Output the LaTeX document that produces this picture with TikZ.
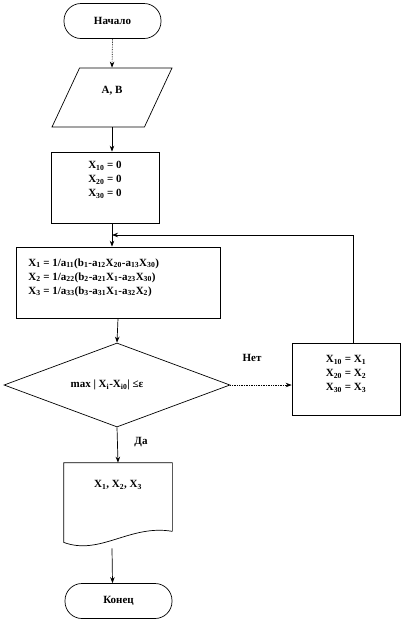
\documentclass[tikz,border=0pt]{standalone}
\usepackage{fontspec}
\setmainfont{Liberation Serif}
\usepackage{tikz}
\usetikzlibrary{shapes.geometric,arrows.meta}

\begin{document}
\begin{tikzpicture}[x=1pt, y=-1pt, line width=0.7pt,
  every node/.style={font=\bfseries\fontsize{11}{14}\selectfont},
  arr/.style={-{Stealth[length=6pt,width=4.5pt]}},
  term/.style={draw, rounded corners=17pt, minimum height=35pt},
  block/.style={draw, minimum width=108pt, minimum height=71pt}]
\useasboundingbox (0,0) rectangle (403,622);
% blocks
\node[term, minimum width=97pt] (start) at (112.5,21) {Начало};
\node[draw, trapezium, trapezium left angle=67, trapezium right angle=113,
  trapezium stretches=true, minimum width=120pt, minimum height=59pt,
  label={[yshift=7pt]center:{A, B}}] (io) at (112,97.5) {};
\node[block, label={[yshift=7.5pt, align=center]center:{X\textsubscript{10} = 0\\X\textsubscript{20} = 0\\X\textsubscript{30} = 0}}] (init) at (105,187.5) {};
\node[block, minimum width=204pt, label={[anchor=west, xshift=9pt, yshift=5pt, align=left]west:{X\textsubscript{1} = 1/a\textsubscript{11}(b\textsubscript{1}-a\textsubscript{12}X\textsubscript{20}-a\textsubscript{13}X\textsubscript{30})\\X\textsubscript{2} = 1/a\textsubscript{22}(b\textsubscript{2}-a\textsubscript{21}X\textsubscript{1}-a\textsubscript{23}X\textsubscript{30})\\X\textsubscript{3} = 1/a\textsubscript{33}(b\textsubscript{3}-a\textsubscript{31}X\textsubscript{1}-a\textsubscript{32}X\textsubscript{2})}}] (calc) at (118,282.5) {};
\node[draw, diamond, inner sep=0pt, minimum width=226pt, minimum height=84pt,
  label={[xshift=-10pt]center:{max | X\textsubscript{i}-X\textsubscript{i0}| ≤ε}}] (cond) at (117,385) {};
\node[block, minimum height=72pt, label={[yshift=5pt, align=center]center:{X\textsubscript{10} = X\textsubscript{1}\\X\textsubscript{20} = X\textsubscript{2}\\X\textsubscript{30} = X\textsubscript{3}}}] (upd) at (346,379) {};
\node[minimum width=108pt, minimum height=68pt, label={[yshift=12pt]center:{X\textsubscript{1}, X\textsubscript{2}, X\textsubscript{3}}}] (out) at (118,497) {};
\draw (out.south east) -- (out.north east) -- (out.north west) -- ([yshift=-11pt]out.south west)
  .. controls (100,556) and (130,524) .. (out.south east);
\node[term, minimum width=107pt] (stop) at (118.5,601) {Конец};
\node (no) at (252,358) {Нет};
\node (yes) at (141,442) {Да};
\coordinate (join) at (112,235);
% connectors
\draw[arr, densely dotted] (start.south) -- (io.north);
\draw[arr] (io.south) -- (io.south |- init.north);
\draw[arr] (io.south |- init.south) -- (io.south |- calc.north);
\draw[arr] (calc.south) -- (cond.north);
\draw[arr, densely dotted] (cond.east) -- (cond.east -| upd.west);
\draw[arr] ([xshift=7pt]upd.north) |- (join);
\draw[arr] (cond.south) -- (out.north);
\draw[arr] ([xshift=-6pt, yshift=-17pt]out.south) -- ([xshift=-6pt]stop.north);
\end{tikzpicture}
\end{document}
